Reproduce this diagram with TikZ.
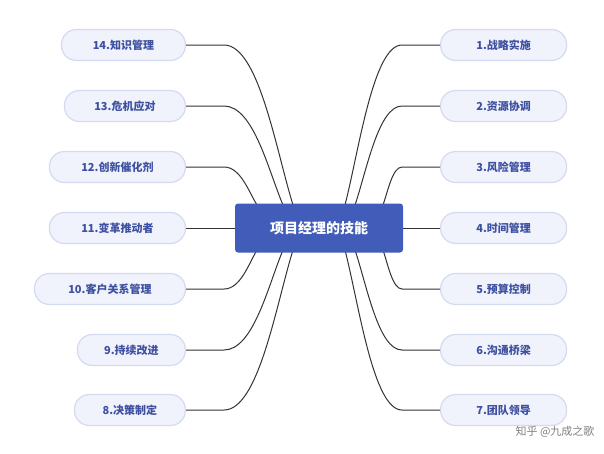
\documentclass[tikz,border=0pt]{standalone}
\usepackage{fontspec}
\newfontfamily\cjk{Noto Sans CJK SC}
\definecolor{lt}{RGB}{62,80,160}
\definecolor{rt}{RGB}{65,92,185}
\definecolor{lf}{RGB}{240,242,252}
\definecolor{lb}{RGB}{212,218,240}
\begin{document}
\begin{tikzpicture}[x=1pt,y=-1pt,
 leaf/.style={draw=lb, line width=1.2pt, fill=lf, rounded corners=15pt, minimum height=31pt, inner xsep=12pt, text=lt, font=\cjk\bfseries\fontsize{11}{13}\selectfont},
 root/.style={fill=rt, rounded corners=3pt, minimum width=168pt, minimum height=49pt, text=white, font=\cjk\bfseries\fontsize{14}{16}\selectfont},
 con/.style={line width=1pt, black!80}]
\useasboundingbox (0,0) rectangle (604,453);
\foreach \n/\t/\y in {r1/1.战略实施/45, r2/2.资源协调/106, r3/3.风险管理/167, r4/4.时间管理/228, r5/5.预算控制/289, r6/6.沟通桥梁/350, r7/7.团队领导/410}
 \node[leaf, anchor=west, minimum width=126pt] (\n) at (440,\y) {\t};
\foreach \n/\t/\y/\w in {l14/14.知识管理/45/124, l13/13.危机应对/106/121, l12/12.创新催化剂/167/136, l11/11.变革推动者/228/136, l10/10.客户关系管理/289/151, l9/9.持续改进/350/108, l8/8.决策制定/410/111}
 \node[leaf, anchor=east, minimum width=\w pt] (\n) at (186,\y) {\t};
\foreach \n/\ex/\ey/\kx/\ky in {l14/293/205/224/45, l13/283/205/224/106, l12/257/205/224/167, l10/257/250/224/289, l9/283/250/224/350, l8/293/250/224/410, r1/345/205/402/45, r2/355/205/402/106, r3/383/205/402/167, r5/383/250/402/289, r6/355/250/402/350, r7/345/250/402/410}
 {
 \coordinate (k\n) at (\kx,\ky);
 \coordinate (a\n) at (\ex,\ey);
 \draw[con] (\n) -- (k\n) .. controls ({\kx+0.5*(\ex-\kx)},\ky) and ({\ex-0.25*(\ex-\kx)},{\ey-0.35*(\ey-\ky)}) .. (a\n);
 }
\node[root] (c) at (319,228) {项目经理的技能};
\draw[con] (l11.east) -- (c.west);
\draw[con] (r4.west) -- (c.east);
\node[text=gray, font=\cjk\fontsize{11}{13}\selectfont, anchor=east] (wm) at (598,432) {知乎 @九成之歌};
\end{tikzpicture}
\end{document}
